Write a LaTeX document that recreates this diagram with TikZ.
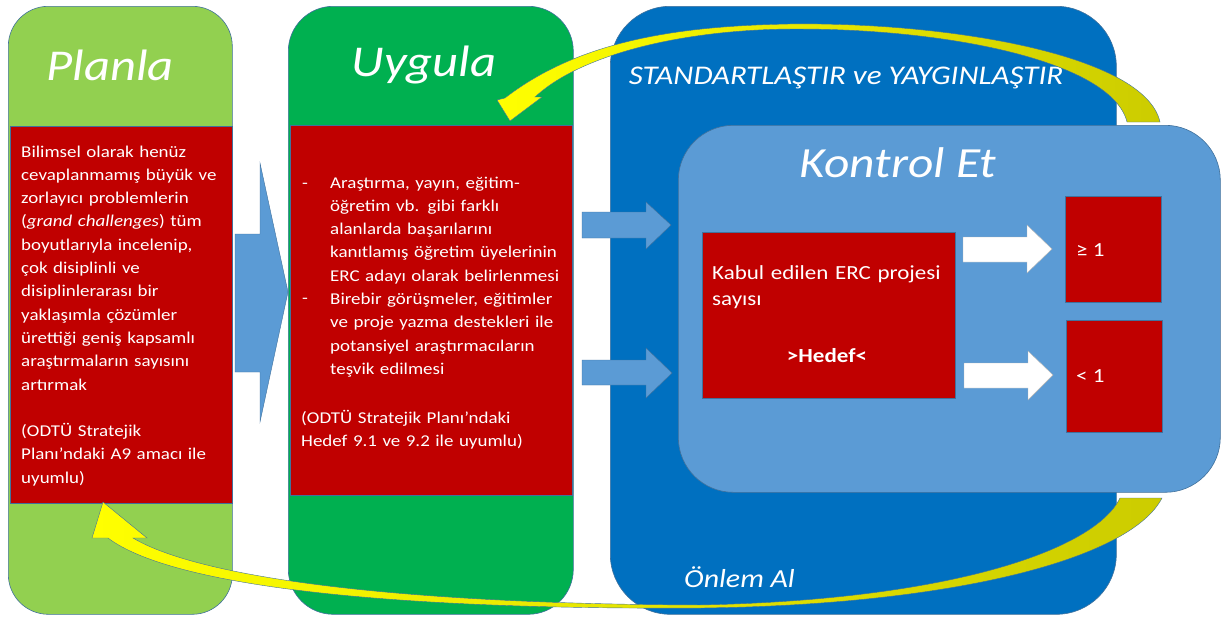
\documentclass[tikz,border=0pt]{standalone}
\usepackage{fontspec}
\setmainfont{Carlito}[FakeStretch=1.15]
\usetikzlibrary{positioning}

\definecolor{planlagreen}{HTML}{92D050}
\definecolor{uygulagreen}{HTML}{00B050}
\definecolor{stdblue}{HTML}{0070C0}
\definecolor{kontrolblue}{HTML}{5B9BD5}
\definecolor{edgeblue}{HTML}{41719C}
\definecolor{boxred}{HTML}{C00000}
\definecolor{olive}{HTML}{CCCC00}

\tikzset{
  stagebox/.style={draw=edgeblue, line width=0.6pt, anchor=north west, inner sep=0pt},
  redbox/.style={draw=edgeblue, line width=0.4pt, fill=boxred, anchor=north west, inner sep=0pt},
  bodytext/.style={text=white, font=\fontsize{16.5}{23.3}\selectfont, align=left,
    text width=300pt, anchor=base west, inner sep=0pt},
  stagetitle/.style={text=white, font=\fontsize{44}{50}\selectfont\itshape, inner sep=0pt},
  blockarrow/.style={fill=kontrolblue, draw=edgeblue, line width=0.4pt},
  whitearrow/.style={fill=white, draw=gray!60, line width=0.4pt},
  yarrow/.style={draw=edgeblue, line width=0.4pt}
}

\begin{document}
\begin{tikzpicture}[x=1pt, y=-1pt]
  \useasboundingbox (0,0) rectangle (1222,621);

  % the four stages
  \node[stagebox, fill=planlagreen, rounded corners=40pt, minimum width=224, minimum height=608] (planla) at (8,6) {};
  \node[stagebox, fill=uygulagreen, rounded corners=45pt, minimum width=285, minimum height=608] (uygula) at (288,6) {};
  \node[stagebox, fill=stdblue, rounded corners=60pt, minimum width=506, minimum height=608] (standart) at (610,6) {};
  \node[stagebox, fill=kontrolblue, rounded corners=55pt, minimum width=542, minimum height=367] (kontrol) at (678,125) {};

  \node[stagetitle] (planlatitle) at (110,65) {Planla};
  \node[stagetitle] (uygulatitle) at (424,65) {Uygula};
  \node[stagetitle, font=\fontsize{27}{30}\selectfont\itshape] (standarttitle) at (846,78) {STANDARTLAŞTIR ve YAYGINLAŞTIR};
  \node[stagetitle, font=\fontsize{43}{48}\selectfont\itshape] (kontroltitle) at (898,163) {Kontrol Et};
  \node[stagetitle, font=\fontsize{26}{30}\selectfont\itshape, anchor=west] (onlemtitle) at (684,577) {Önlem Al};

  % red text boxes
  \node[redbox, minimum width=222, minimum height=377] (planlabox) at (10,126) {};
  \node[redbox, minimum width=282, minimum height=370] (uygulabox) at (290,125) {};

  \node[bodytext] (planlatext) at (21,157) {Bilimsel olarak henüz\\
    cevaplanmamış büyük ve\\
    zorlayıcı problemlerin\\
    (\textit{grand challenges}) tüm\\
    boyutlarıyla incelenip,\\
    çok disiplinli ve\\
    disiplinlerarası bir\\
    yaklaşımla çözümler\\
    ürettiği geniş kapsamlı\\
    araştırmaların sayısını\\
    artırmak\\[23.3pt]
    (ODTÜ Stratejik\\
    Planı’ndaki A9 amacı ile\\
    uyumlu)};

  \node[bodytext, text width=20pt] (dashone) at (302,188) {-};
  \node[bodytext, text width=20pt] (dashtwo) at (302,303) {-};
  \node[bodytext] (uygulatext) at (330,188) {Araştırma, yayın, eğitim-\\
    öğretim vb. gibi farklı\\
    alanlarda başarılarını\\
    kanıtlamış öğretim üyelerinin\\
    ERC adayı olarak belirlenmesi\\
    Birebir görüşmeler, eğitimler\\
    ve proje yazma destekleri ile\\
    potansiyel araştırmacıların\\
    teşvik edilmesi};
  \node[bodytext] (uygulanote) at (301,423) {(ODTÜ Stratejik Planı’ndaki\\
    Hedef 9.1 ve 9.2 ile uyumlu)};

  % blue block arrows
  \draw[blockarrow] (235,234) -- (260,234) -- (260,163) -- (288,292) -- (260,422) -- (260,372) -- (235,372) -- cycle;
  \draw[blockarrow] (582,212) -- (646,212) -- (646,202) -- (671,225) -- (646,249) -- (646,238) -- (582,238) -- cycle;
  \draw[blockarrow] (582,360) -- (646,360) -- (646,348) -- (672,373) -- (646,398) -- (646,385) -- (582,385) -- cycle;

  % control check
  \node[redbox, minimum width=253, minimum height=166] (kabul) at (702,232) {};
  \node[bodytext, font=\fontsize{20}{26}\selectfont] (kabultext) at (712,279) {Kabul edilen ERC projesi\\sayısı};
  \node[text=white, font=\fontsize{20}{24}\selectfont\bfseries] (hedef) at (827,356) {>Hedef<};

  \node[redbox, minimum width=96, minimum height=106] (geq) at (1065,196) {};
  \node[redbox, minimum width=96, minimum height=112] (less) at (1066,320) {};
  \node[text=white, font=\fontsize{20}{24}\selectfont, anchor=west, inner sep=0pt] (geqtext) at (1076,250) {≥ 1};
  \node[text=white, font=\fontsize{20}{24}\selectfont, anchor=west, inner sep=0pt] (lesstext) at (1076,376) {< 1};

  \draw[whitearrow] (963,237) -- (1027,237) -- (1027,225) -- (1052,249) -- (1027,273) -- (1027,262) -- (963,262) -- cycle;
  \draw[whitearrow] (964,363) -- (1028,363) -- (1028,351) -- (1053,375) -- (1028,400) -- (1028,388) -- (964,388) -- cycle;

  % yellow cycle arrows
  \shade[yarrow, left color=yellow, right color=olive]
    (1160,122) .. controls (1145,55) and (950,22) .. (790,24)
    .. controls (680,26) and (580,40) .. (505,98)
    -- (497,100) -- (510,121) -- (542,97) -- (535,97)
    .. controls (580,55) and (680,30) .. (790,29)
    .. controls (950,28) and (1112,62) .. (1127,122) -- cycle;
  \shade[yarrow, left color=yellow, right color=olive]
    (1162,498) .. controls (1130,560) and (950,605) .. (700,608)
    .. controls (380,610) and (170,585) .. (108,538)
    -- (92,538) -- (103,502) -- (147,538) -- (133,538)
    .. controls (200,578) and (400,604) .. (700,605)
    .. controls (950,600) and (1095,550) .. (1120,498) -- cycle;
\end{tikzpicture}
\end{document}
